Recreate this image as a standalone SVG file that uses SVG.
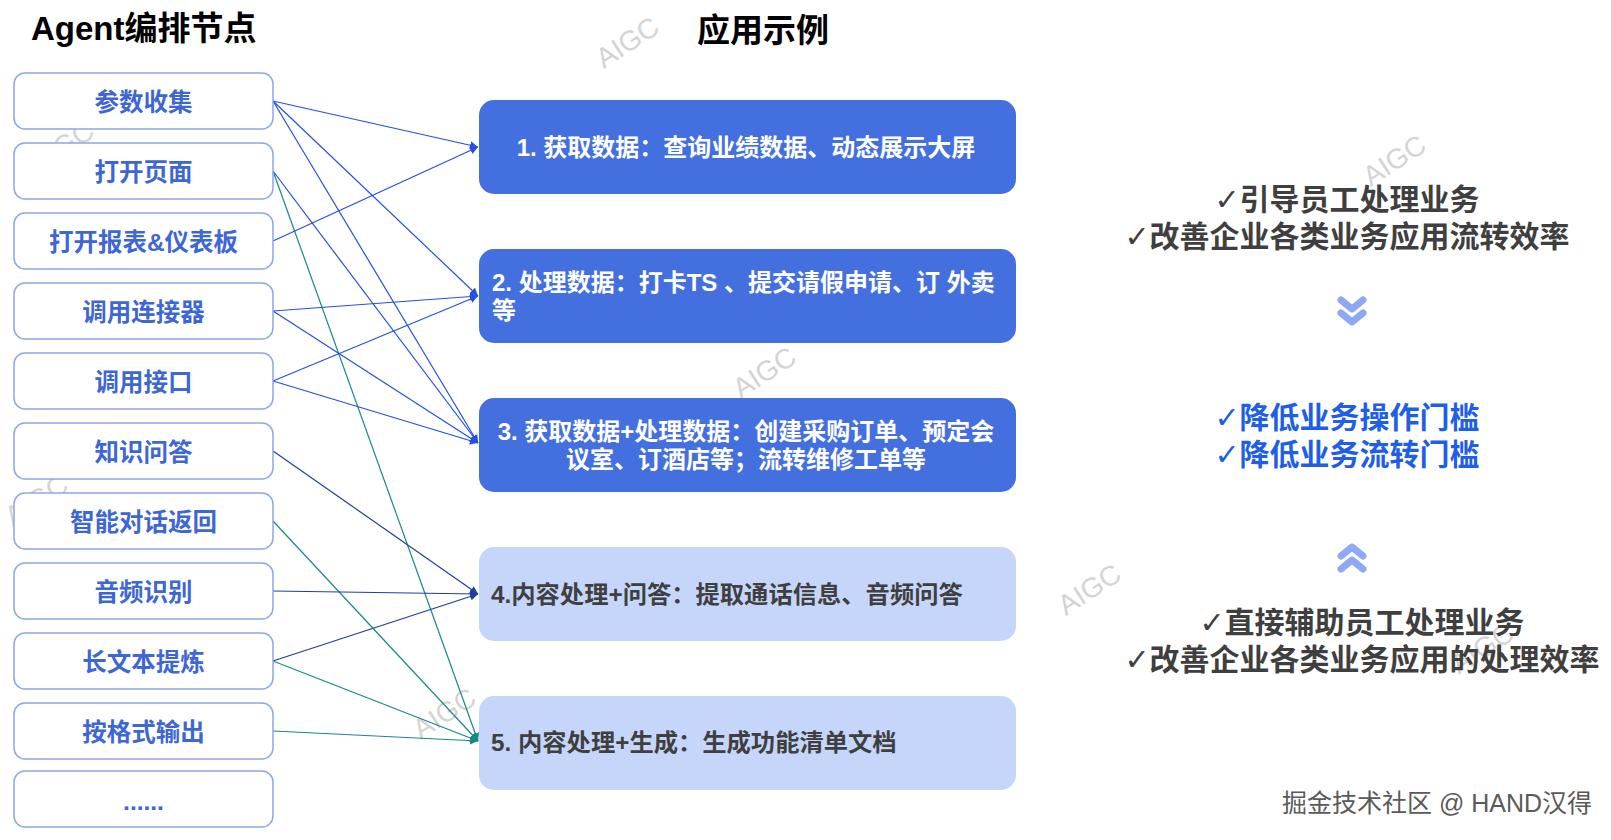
<svg xmlns="http://www.w3.org/2000/svg" width="1611" height="840" viewBox="0 0 1611 840">
<style>
.bg{fill:#ffffff}
.wm{font-family:"Liberation Sans","DejaVu Sans",sans-serif;font-size:28px;fill:#d4d4d4}
.title{font-family:"Liberation Sans","Noto Sans CJK SC",sans-serif;font-weight:bold;font-size:33px;fill:#000}
.lb{fill:#ffffff;stroke:#8fa6e8;stroke-width:1.5}
.lt{font-family:"Liberation Sans","Noto Sans CJK SC",sans-serif;font-weight:bold;font-size:24.5px;fill:#3d67d5;text-anchor:middle}
.rbd{fill:#4470df}
.rbl{fill:#c6d6fa}
.rtw{font-family:"Liberation Sans","Noto Sans CJK SC",sans-serif;font-weight:bold;font-size:24px;fill:#ffffff}
.rtg{font-family:"Liberation Sans","Noto Sans CJK SC",sans-serif;font-weight:bold;font-size:24.3px;fill:#3f3f3f}
.st{font-family:"Liberation Sans","Noto Sans CJK SC",sans-serif;font-weight:bold;font-size:30px;text-anchor:middle}
.ck{font-family:"DejaVu Sans",sans-serif;font-weight:normal}
.sg{fill:#3f3f3f}
.sb{fill:#1f5fe8}
.chev{fill:none;stroke:#8ea8f5;stroke-width:7;stroke-linecap:round;stroke-linejoin:round}
.c1{stroke:#2450e2;stroke-width:1.2;fill:none}
.c2{stroke:#1f3f9e;stroke-width:1.2;fill:none}
.c3{stroke:#178a84;stroke-width:1.2;fill:none}
.foot{font-family:"Liberation Sans","Noto Sans CJK SC",sans-serif;font-size:25px;fill:#5a5a5a;stroke:#ffffff;stroke-width:0.6;paint-order:stroke}
</style>
<defs>
<marker id="m1" viewBox="0 0 10 10" refX="10" refY="5" markerWidth="8" markerHeight="8" markerUnits="userSpaceOnUse" orient="auto"><path d="M0,0 L10,5 L0,10 z" fill="#2450e2"/></marker>
<marker id="m2" viewBox="0 0 10 10" refX="10" refY="5" markerWidth="8" markerHeight="8" markerUnits="userSpaceOnUse" orient="auto"><path d="M0,0 L10,5 L0,10 z" fill="#1f3f9e"/></marker>
<marker id="m3" viewBox="0 0 10 10" refX="10" refY="5" markerWidth="8" markerHeight="8" markerUnits="userSpaceOnUse" orient="auto"><path d="M0,0 L10,5 L0,10 z" fill="#178a84"/></marker>
</defs>
<rect class="bg" x="0" y="0" width="1611" height="840"/>

<g id="watermarks">
<text class="wm" x="627" y="52" text-anchor="middle" transform="rotate(-33 627 42)">AIGC</text>
<text class="wm" x="1394" y="170" text-anchor="middle" transform="rotate(-33 1394 160)">AIGC</text>
<text class="wm" x="764" y="382" text-anchor="middle" transform="rotate(-33 764 372)">AIGC</text>
<text class="wm" x="1089" y="599" text-anchor="middle" transform="rotate(-33 1089 589)">AIGC</text>
<text class="wm" x="444" y="723" text-anchor="middle" transform="rotate(-33 444 713)">AIGC</text>
<text class="wm" x="36" y="510" text-anchor="middle" transform="rotate(-33 36 500)">AIGC</text>
<text class="wm" x="62" y="156" text-anchor="middle" transform="rotate(-33 62 146)">AIGC</text>
<text class="wm" x="1482" y="658" text-anchor="middle" transform="rotate(-33 1482 648)">AIGC</text>
</g>

<g id="titles">
<text class="title" x="31" y="40">Agent编排节点</text>
<text class="title" x="697" y="42">应用示例</text>
</g>

<g id="connectors">
<line class="c1" x1="273" y1="101" x2="478" y2="147" marker-end="url(#m1)"/>
<line class="c1" x1="273" y1="101" x2="478" y2="296" marker-end="url(#m1)"/>
<line class="c1" x1="273" y1="101" x2="478" y2="443" marker-end="url(#m1)"/>
<line class="c1" x1="273" y1="171" x2="478" y2="443" marker-end="url(#m1)"/>
<line class="c3" x1="273" y1="171" x2="478" y2="741" marker-end="url(#m3)"/>
<line class="c1" x1="273" y1="241" x2="478" y2="147" marker-end="url(#m1)"/>
<line class="c1" x1="273" y1="311" x2="478" y2="296" marker-end="url(#m1)"/>
<line class="c1" x1="273" y1="311" x2="478" y2="443" marker-end="url(#m1)"/>
<line class="c1" x1="273" y1="381" x2="478" y2="296" marker-end="url(#m1)"/>
<line class="c1" x1="273" y1="381" x2="478" y2="443" marker-end="url(#m1)"/>
<line class="c2" x1="273" y1="451" x2="478" y2="594" marker-end="url(#m2)"/>
<line class="c3" x1="273" y1="521" x2="478" y2="741" marker-end="url(#m3)"/>
<line class="c2" x1="273" y1="591" x2="478" y2="594" marker-end="url(#m2)"/>
<line class="c2" x1="273" y1="661" x2="478" y2="594" marker-end="url(#m2)"/>
<line class="c3" x1="273" y1="661" x2="478" y2="741" marker-end="url(#m3)"/>
<line class="c3" x1="273" y1="731" x2="478" y2="741" marker-end="url(#m3)"/>
</g>

<g id="n-l1"><rect class="lb" x="14" y="73" width="259" height="56" rx="11"/><text class="lt" x="143.5" y="111">参数收集</text></g>
<g id="n-l2"><rect class="lb" x="14" y="143" width="259" height="56" rx="11"/><text class="lt" x="143.5" y="181">打开页面</text></g>
<g id="n-l3"><rect class="lb" x="14" y="213" width="259" height="56" rx="11"/><text class="lt" x="143.5" y="251">打开报表&amp;仪表板</text></g>
<g id="n-l4"><rect class="lb" x="14" y="283" width="259" height="56" rx="11"/><text class="lt" x="143.5" y="321">调用连接器</text></g>
<g id="n-l5"><rect class="lb" x="14" y="353" width="259" height="56" rx="11"/><text class="lt" x="143.5" y="391">调用接口</text></g>
<g id="n-l6"><rect class="lb" x="14" y="423" width="259" height="56" rx="11"/><text class="lt" x="143.5" y="461">知识问答</text></g>
<g id="n-l7"><rect class="lb" x="14" y="493" width="259" height="56" rx="11"/><text class="lt" x="143.5" y="531">智能对话返回</text></g>
<g id="n-l8"><rect class="lb" x="14" y="563" width="259" height="56" rx="11"/><text class="lt" x="143.5" y="601">音频识别</text></g>
<g id="n-l9"><rect class="lb" x="14" y="633" width="259" height="56" rx="11"/><text class="lt" x="143.5" y="671">长文本提炼</text></g>
<g id="n-l10"><rect class="lb" x="14" y="703" width="259" height="56" rx="11"/><text class="lt" x="143.5" y="741">按格式输出</text></g>
<g id="n-l11"><rect class="lb" x="14" y="771" width="259" height="56" rx="11"/><text class="lt" x="143.5" y="810">......</text></g>

<g id="n-r1"><rect class="rbd" x="479" y="100" width="537" height="94" rx="15"/><text class="rtw" x="746" y="156" text-anchor="middle">1. 获取数据：查询业绩数据、动态展示大屏</text></g>
<g id="n-r2"><rect class="rbd" x="479" y="249" width="537" height="94" rx="15"/><text class="rtw" x="492" y="291">2. 处理数据：打卡TS 、提交请假申请、订 外卖</text><text class="rtw" x="492" y="319">等</text></g>
<g id="n-r3"><rect class="rbd" x="479" y="398" width="537" height="94" rx="15"/><text class="rtw" x="746" y="440" text-anchor="middle">3. 获取数据+处理数据：创建采购订单、预定会</text><text class="rtw" x="746" y="468" text-anchor="middle">议室、订酒店等；流转维修工单等</text></g>
<g id="n-r4"><rect class="rbl" x="479" y="547" width="537" height="94" rx="15"/><text class="rtg" x="491" y="603">4.内容处理+问答：提取通话信息、音频问答</text></g>
<g id="n-r5"><rect class="rbl" x="479" y="696" width="537" height="94" rx="15"/><text class="rtg" x="491" y="751">5. 内容处理+生成：生成功能清单文档</text></g>

<g id="summary-top">
<text class="st sg" x="1347" y="210"><tspan class="ck">✓</tspan>引导员工处理业务</text>
<text class="st sg" x="1347" y="247"><tspan class="ck">✓</tspan>改善企业各类业务应用流转效率</text>
</g>
<g id="chevron-down">
<polyline class="chev" points="1341,300 1352,309 1363,300"/>
<polyline class="chev" points="1341,313 1352,322 1363,313"/>
</g>
<g id="summary-mid">
<text class="st sb" x="1347" y="428"><tspan class="ck">✓</tspan>降低业务操作门槛</text>
<text class="st sb" x="1347" y="465"><tspan class="ck">✓</tspan>降低业务流转门槛</text>
</g>
<g id="chevron-up">
<polyline class="chev" points="1341,556 1352,547 1363,556"/>
<polyline class="chev" points="1341,569 1352,560 1363,569"/>
</g>
<g id="summary-bottom">
<text class="st sg" x="1362" y="633"><tspan class="ck">✓</tspan>直接辅助员工处理业务</text>
<text class="st sg" x="1362" y="670"><tspan class="ck">✓</tspan>改善企业各类业务应用的处理效率</text>
</g>

<text class="foot" x="1282" y="812">掘金技术社区 @ HAND汉得</text>
</svg>
